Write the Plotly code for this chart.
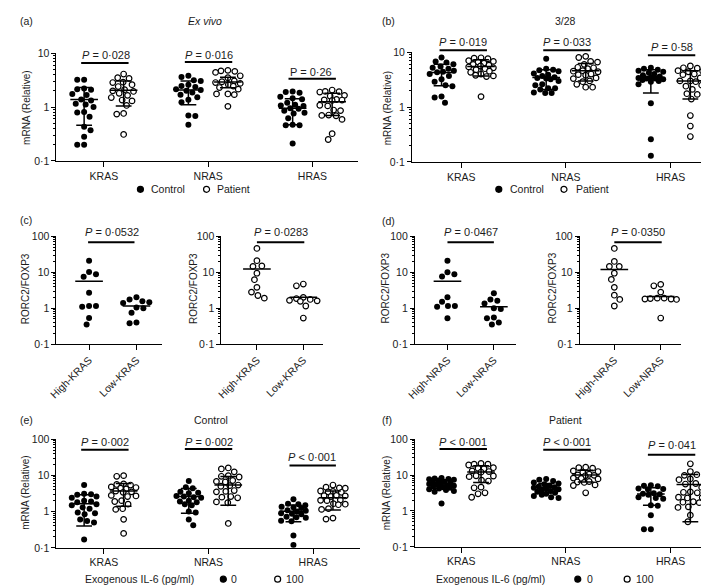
import numpy as np
import plotly.graph_objects as go

W, H = 709, 585
FONT = "Liberation Sans, Arial, sans-serif"
INK = "#1b1b1b"

genes = ["KRAS", "NRAS", "HRAS"]

# (a) Ex vivo - control (filled) vs patient (open)
a_kras_ctrl = [3.2, 3.2, 2.2, 2.15, 2.1, 1.75, 1.67, 1.38, 1.32, 1.15, 1.12, 1.0, 0.81, 0.79, 0.66, 0.43, 0.37, 0.28, 0.2, 0.2]
a_kras_pat = [4.1, 3.5, 3.4, 2.9, 2.85, 2.6, 2.4, 2.1, 2.0, 1.95, 1.8, 1.65, 1.5, 1.35, 1.3, 1.07, 0.76, 0.74, 0.31]
a_nras_ctrl = [3.8, 3.6, 3.15, 3.05, 2.6, 2.45, 2.35, 2.15, 2.07, 2.0, 1.87, 1.7, 1.52, 1.36, 1.23, 0.7, 0.68, 0.47]
a_nras_pat = [4.8, 4.7, 4.6, 4.4, 3.8, 3.5, 3.05, 2.95, 2.85, 2.75, 2.6, 2.45, 2.3, 2.15, 1.75, 1.75, 1.7, 1.03]
a_hras_ctrl = [1.95, 1.9, 1.85, 1.55, 1.45, 1.4, 1.2, 1.1, 1.07, 1.05, 0.95, 0.93, 0.85, 0.78, 0.76, 0.62, 0.47, 0.46, 0.46, 0.21]
a_hras_pat = [2.07, 1.95, 1.93, 1.9, 1.65, 1.6, 1.38, 1.36, 1.35, 1.33, 1.08, 1.05, 0.88, 0.86, 0.71, 0.7, 0.69, 0.59, 0.32, 0.25]
a_mean_ctrl = [1.38, 2.07, 0.95]
a_sd_ctrl = [0.92, 0.97, 0.48]
a_mean_pat = [2.05, 2.93, 1.25]
a_sd_pat = [1.0, 0.65, 0.55]
a_pvals = ["<i>P</i> = 0·028", "<i>P</i> = 0·016", "P = 0·26"]

# (b) 3/28 stimulation
b_kras_ctrl = [8.0, 6.8, 6.5, 6.0, 5.5, 5.2, 5.0, 4.6, 4.4, 4.3, 4.0, 3.7, 3.2, 2.9, 2.5, 2.4, 1.55, 1.5, 1.2]
b_kras_pat = [7.9, 7.8, 7.6, 7.0, 6.8, 6.6, 6.3, 6.0, 5.8, 5.6, 5.4, 5.2, 5.0, 4.8, 4.5, 4.3, 4.0, 3.8, 3.7, 3.6, 1.55]
b_nras_ctrl = [7.6, 5.0, 4.8, 4.7, 4.5, 4.1, 3.9, 3.7, 3.5, 3.4, 3.3, 3.2, 3.0, 2.6, 2.5, 2.2, 2.2, 2.1, 1.85, 1.8, 1.8]
b_nras_pat = [8.4, 8.0, 6.8, 6.6, 6.0, 5.3, 5.2, 5.0, 4.6, 4.5, 4.4, 4.0, 3.9, 3.8, 3.4, 3.3, 3.0, 2.9, 2.6, 2.3, 2.3]
b_hras_ctrl = [5.2, 5.0, 4.8, 4.6, 4.4, 4.2, 4.0, 3.8, 3.6, 3.5, 3.4, 3.3, 3.3, 3.2, 3.1, 3.0, 2.9, 2.6, 1.17, 0.26, 0.13]
b_hras_pat = [5.6, 5.2, 5.1, 4.6, 4.5, 4.4, 4.0, 3.9, 3.4, 3.0, 3.0, 2.9, 2.5, 2.4, 2.1, 1.75, 1.7, 1.4, 0.7, 0.45, 0.29]
b_mean_ctrl = [4.25, 3.45, 3.3]
b_sd_ctrl = [1.8, 1.35, 1.5]
b_mean_pat = [5.5, 4.6, 3.0]
b_sd_pat = [1.8, 1.6, 1.6]
b_pvals = ["<i>P</i> = 0·019", "<i>P</i> = 0·033", "<i>P</i> = 0·58"]

# (c) RORC2/FOXP3 by KRAS level, (d) by NRAS level
c_labels = ["High-KRAS", "Low-KRAS"]
c_high_ctrl = [21, 10.2, 8.8, 7.5, 2.7, 1.15, 1.1, 1.15, 0.53, 0.35]
c_low_ctrl = [2.0, 1.75, 1.55, 1.45, 1.4, 1.05, 1.0, 0.75, 0.4, 0.38]
c_high_pat = [46, 21, 15, 14.5, 9.4, 6.2, 3.8, 2.8, 2.25, 1.9]
c_low_pat = [4.7, 4.2, 2.0, 1.85, 1.75, 1.65, 1.6, 1.55, 1.15, 0.53]
c_means = [[5.6, 1.15], [12.3, 2.0]]
c_pvals = ["<i>P</i> = 0·0532", "<i>P</i> = 0·0283"]

d_labels = ["High-NRAS", "Low-NRAS"]
d_high_ctrl = [21, 10, 8.8, 7.6, 2.0, 1.5, 1.15, 1.1, 1.15, 0.52]
d_low_ctrl = [2.6, 1.75, 1.6, 1.35, 1.0, 0.95, 0.55, 0.52, 0.4, 0.35]
d_high_pat = [46, 20, 14.5, 14.5, 9.4, 6.3, 3.8, 2.3, 1.75, 1.15]
d_low_pat = [4.6, 4.2, 2.8, 1.9, 1.9, 1.85, 1.8, 1.8, 1.75, 0.53]
d_means = [[5.6, 1.1], [12.0, 2.1]]
d_pvals = ["<i>P</i> = 0·0467", "<i>P</i> = 0·0350"]

# (e) Control, (f) Patient: exogenous IL-6 0 (filled) vs 100 pg/ml (open)
e_kras_0 = [5.4, 3.1, 3.0, 2.9, 2.6, 2.4, 2.0, 1.9, 1.8, 1.6, 1.5, 1.3, 1.2, 0.95, 0.9, 0.85, 0.6, 0.55, 0.5, 0.17]
e_kras_100 = [9.8, 9.4, 5.8, 5.6, 5.4, 4.8, 4.6, 4.4, 4.2, 3.7, 3.5, 3.4, 2.8, 2.7, 2.6, 2.0, 1.9, 1.6, 1.2, 1.15, 0.61, 0.25]
e_nras_0 = [7.0, 4.7, 4.4, 3.5, 3.3, 3.2, 2.7, 2.6, 2.5, 2.4, 2.0, 1.9, 1.8, 1.6, 1.5, 1.0, 0.95, 0.6, 0.42]
e_nras_100 = [16, 15, 12.5, 9.8, 9.4, 9.0, 7.2, 6.8, 6.6, 5.4, 5.2, 5.0, 3.8, 3.6, 3.5, 2.6, 2.5, 2.4, 1.85, 1.75, 0.47]
e_hras_0 = [2.2, 1.65, 1.6, 1.5, 1.35, 1.3, 1.25, 1.08, 1.05, 1.0, 0.9, 0.87, 0.84, 0.72, 0.7, 0.68, 0.56, 0.54, 0.22, 0.12]
e_hras_100 = [5.4, 4.7, 4.5, 4.4, 3.7, 3.6, 3.5, 3.4, 2.8, 2.75, 2.7, 2.6, 2.1, 2.05, 2.0, 1.65, 1.6, 1.55, 1.2, 1.15, 0.66, 0.62]
e_mean_0 = [1.65, 2.6, 1.02]
e_sd_0 = [1.25, 1.7, 0.5]
e_mean_100 = [3.7, 5.4, 2.4]
e_sd_100 = [2.3, 3.9, 1.3]
e_pvals = ["<i>P</i> = 0·002", "<i>P</i> = 0·002", "<i>P</i> < 0·001"]

f_kras_0 = [8.2, 8.0, 7.8, 7.6, 7.4, 7.0, 6.5, 6.2, 6.0, 5.8, 5.6, 5.4, 5.2, 5.0, 4.8, 4.6, 4.4, 4.2, 4.0, 3.8, 3.6, 3.4, 1.6]
f_kras_100 = [21, 20, 20, 19, 16, 15.5, 15, 13, 12.5, 12, 9.5, 9.4, 9.0, 7.2, 6.8, 4.6, 4.4, 3.2, 3.0, 2.4]
f_nras_0 = [7.8, 7.4, 6.8, 6.2, 5.8, 5.5, 5.0, 4.8, 4.6, 4.4, 4.2, 4.0, 3.8, 3.6, 3.4, 3.2, 3.0, 2.8, 2.6, 2.4, 2.3]
f_nras_100 = [16.5, 16, 15.5, 13, 12.5, 12, 10.5, 10, 9.8, 9.5, 8.2, 8, 7.8, 6.6, 6.4, 6.2, 5.3, 5.1, 3.2]
f_hras_0 = [5.2, 5.0, 4.9, 4.2, 4.1, 4.0, 3.1, 3.0, 2.9, 2.8, 2.4, 2.3, 2.2, 1.45, 1.4, 0.76, 0.31, 0.31]
f_hras_100 = [20.5, 12.5, 10.2, 9.8, 7.8, 7.4, 5.8, 5.6, 4.5, 3.4, 3.3, 3.2, 2.4, 2.35, 2.3, 1.8, 1.75, 1.7, 1.3, 1.25, 0.76, 0.5]
f_mean_0 = [5.7, 4.5, 2.95]
f_sd_0 = [1.4, 1.3, 1.5]
f_mean_100 = [12.2, 10.0, 5.45]
f_sd_100 = [6.0, 3.6, 4.95]
f_pvals = ["<i>P</i> < 0·001", "<i>P</i> < 0·001", "<i>P</i> = 0·041"]

fig = go.Figure()


def fx(px):
    return px / W


def fy(py):
    return 1 - py / H


def swarm(vals, ppd, gap=7.0, maxw=12.0):
    # beeswarm within a fixed half-width; dots overlap when the column is crowded
    y = np.log10(np.asarray(vals, float)) * ppd
    order = np.argsort(-y)
    xs = np.zeros(len(y))
    done = []
    flip = 1
    n = int(maxw / 0.5)
    for i in order:
        cands = [0.0]
        for k in range(1, n + 1):
            cands += [k * 0.5 * flip, -k * 0.5 * flip]
        best, best_d = 0.0, -1.0
        for c in cands:
            dmin = min([np.hypot(c - xj, y[i] - yj) for xj, yj in done], default=1e9)
            if dmin >= gap:
                best = c
                break
            if dmin > best_d + 0.3:
                best, best_d = c, dmin
        xs[i] = best
        done.append((best, y[i]))
        flip = -flip
    return xs


def add_axes(n, x0, x1, y0, y1, c1, sp, yr, ticktext, angle=0):
    sfx = "" if n == 1 else str(n)
    xr = [1 - (c1 - x0) / sp, 1 + (x1 - c1) / sp]
    fig.update_layout(**{
        "xaxis" + sfx: dict(
            domain=[fx(x0), fx(x1)], range=xr, anchor="y" + sfx,
            tickmode="array", tickvals=list(range(1, len(ticktext) + 1)), ticktext=ticktext,
            tickangle=angle, ticks="outside", ticklen=5, tickwidth=1, tickcolor="black",
            showline=True, linecolor="black", linewidth=1, showgrid=False, zeroline=False,
            tickfont=dict(size=10.5, family=FONT, color=INK), fixedrange=True),
        "yaxis" + sfx: dict(
            domain=[fy(y1), fy(y0)], type="log", range=list(yr), anchor="x" + sfx,
            tick0=0, dtick=1, ticks="outside", ticklen=4, tickwidth=1, tickcolor="black",
            minor=dict(ticks="outside", ticklen=2, tickcolor="black", dtick="D1", showgrid=False),
            showline=True, linecolor="black", linewidth=1, showgrid=False, zeroline=False,
            tickfont=dict(size=10.5, family=FONT, color=INK), fixedrange=True),
    })
    return dict(x="x" + sfx, y="y" + sfx, sp=sp, ppd=(y1 - y0) / (yr[1] - yr[0]))


def add_dots(ax, vals, xc, filled, gap=7.0, maxw=12.0):
    offs = swarm(vals, ax["ppd"], gap, maxw)
    if filled:
        mk = dict(size=6, color="black", line=dict(width=0))
    else:
        mk = dict(size=5.6, color="white", line=dict(width=1.2, color="black"))
    fig.add_trace(go.Scatter(x=xc + offs / ax["sp"], y=vals, mode="markers", marker=mk,
                             xaxis=ax["x"], yaxis=ax["y"], showlegend=False, hoverinfo="skip"))


def add_summary(ax, xc, mean, sd=None, half=14, cap=8):
    h, c = half / ax["sp"], cap / ax["sp"]
    xs = [xc - h, xc + h, None]
    ys = [mean, mean, None]
    if sd is not None:
        xs += [xc, xc, None, xc - c, xc + c, None, xc - c, xc + c]
        ys += [mean - sd, mean + sd, None, mean + sd, mean + sd, None, mean - sd, mean - sd]
    fig.add_trace(go.Scatter(x=xs, y=ys, mode="lines", line=dict(color="black", width=1.5),
                             xaxis=ax["x"], yaxis=ax["y"], showlegend=False, hoverinfo="skip"))


def text(px, py, s, size=11, xanchor="center", angle=0):
    fig.add_annotation(x=fx(px), y=fy(py), xref="paper", yref="paper", text=s, showarrow=False,
                       xanchor=xanchor, yanchor="middle", textangle=angle,
                       font=dict(size=size, family=FONT, color=INK))


def pbar(px0, px1, py):
    fig.add_shape(type="line", xref="paper", yref="paper", x0=fx(px0), x1=fx(px1), y0=fy(py), y1=fy(py),
                  line=dict(color="black", width=2))


def dot(px, py, filled):
    fig.add_shape(type="circle", xref="paper", yref="paper", xsizemode="pixel", ysizemode="pixel",
                  xanchor=fx(px), yanchor=fy(py), x0=-3, x1=3, y0=-3, y1=3,
                  fillcolor="black" if filled else "white", line=dict(color="black", width=1.2))


# ---- gene panels (a), (b), (e), (f)
gene_panels = [
    (1, 40, 345, 40, 150, 88, 105.6, (-1, 1),
     [a_kras_ctrl, a_nras_ctrl, a_hras_ctrl], [a_kras_pat, a_nras_pat, a_hras_pat],
     a_mean_ctrl, a_sd_ctrl, a_mean_pat, a_sd_pat),
    (2, 400, 708, 39, 151, 450, 106, (-1, 1),
     [b_kras_ctrl, b_nras_ctrl, b_hras_ctrl], [b_kras_pat, b_nras_pat, b_hras_pat],
     b_mean_ctrl, b_sd_ctrl, b_mean_pat, b_sd_pat),
    (7, 40, 347, 434, 545, 88, 106, (-1, 2),
     [e_kras_0, e_nras_0, e_hras_0], [e_kras_100, e_nras_100, e_hras_100],
     e_mean_0, e_sd_0, e_mean_100, e_sd_100),
    (8, 403, 708, 434, 544, 450, 106, (-1, 2),
     [f_kras_0, f_nras_0, f_hras_0], [f_kras_100, f_nras_100, f_hras_100],
     f_mean_0, f_sd_0, f_mean_100, f_sd_100),
]
for n, x0, x1, y0, y1, c1, sp, yr, g0, g1, m0, s0, m1, s1 in gene_panels:
    ax = add_axes(n, x0, x1, y0, y1, c1, sp, yr, genes)
    d = 20 / sp
    for i in range(3):
        add_dots(ax, g0[i], i + 1 - d, True, 7.0, 12.5)
        add_dots(ax, g1[i], i + 1 + d, False, 7.0, 12.5)
        add_summary(ax, i + 1 - d, m0[i], s0[i])
        add_summary(ax, i + 1 + d, m1[i], s1[i])

# ---- ratio panels (c), (d)
ratio_panels = [
    (3, 40, 147, 73, 48, c_labels, c_high_ctrl, c_low_ctrl, True, c_means[0]),
    (4, 207, 310, 243, 47, c_labels, c_high_pat, c_low_pat, False, c_means[1]),
    (5, 403, 505, 436, 47, d_labels, d_high_ctrl, d_low_ctrl, True, d_means[0]),
    (6, 570, 673, 605, 47, d_labels, d_high_pat, d_low_pat, False, d_means[1]),
]
for n, x0, x1, c1, sp, labs, hi, lo, filled, means in ratio_panels:
    ax = add_axes(n, x0, x1, 227, 337, c1, sp, (-1, 2), labs, angle=-45)
    add_dots(ax, hi, 1, filled, 7.0, 16)
    add_dots(ax, lo, 2, filled, 7.0, 16)
    add_summary(ax, 1, means[0])
    add_summary(ax, 2, means[1])

# ---- p-value brackets
p_specs = [
    (a_pvals, [(90, 42, 65, 113, 50), (194, 42, 170, 218, 49), (298, 59, 275, 323, 66)]),
    (b_pvals, [(452, 29, 428, 476, 37), (557, 29, 533, 581, 37), (663, 34, 639, 687, 42)]),
    (c_pvals, [(96, 223, 72, 119, 233), (267, 223, 243, 291, 233)]),
    (d_pvals, [(460, 223, 436, 483, 233), (629, 223, 605, 653, 233)]),
    (e_pvals, [(89, 437, 65, 113, 445), (194, 437, 170, 218, 444), (299, 452, 276, 323, 461)]),
    (f_pvals, [(452, 437, 428, 476, 444), (557, 437, 533, 581, 445), (663, 440, 639, 687, 450)]),
]
for labels, spots in p_specs:
    for lab, (tx, ty, bx0, bx1, by) in zip(labels, spots):
        text(tx, ty, lab, 11)
        pbar(bx0, bx1, by)

# ---- panel letters and titles
for lab, px, py in [("(a)", 1, 7), ("(b)", 368, 7), ("(c)", 1, 210), ("(d)", 368, 211),
                    ("(e)", 1, 415), ("(f)", 368, 415)]:
    text(px, py, lab, 10.5, xanchor="left")
text(190, 7, "<i>Ex vivo</i>", 10.5)
text(556, 7, "3/28", 10.5)
text(197, 415, "Control", 10.5)
text(556, 415, "Patient", 10.5)

# ---- y-axis titles
for px, py, s in [(9, 96, "mRNA (Relative)"), (375, 96, "mRNA (Relative)"),
                  (8, 280, "RORC2/FOXP3"), (179, 280, "RORC2/FOXP3"),
                  (373, 280, "RORC2/FOXP3"), (542, 280, "RORC2/FOXP3"),
                  (9, 489, "mRNA (Relative)"), (375, 489, "mRNA (Relative)")]:
    text(px, py, s, 10, angle=-90)

# ---- legends
dot(125, 179, True); text(134, 179, "Control", 10.5, xanchor="left")
dot(192, 179, False); text(201, 179, "Patient", 10.5, xanchor="left")
dot(488, 179, True); text(497, 179, "Control", 10.5, xanchor="left")
dot(554, 179, False); text(564, 179, "Patient", 10.5, xanchor="left")

text(67, 577, "Exogenous IL-6 (pg/ml)", 10.5, xanchor="left")
dot(209, 577, True); text(215, 577, "0", 10.5, xanchor="left")
dot(264, 577, False); text(270, 577, "100", 10.5, xanchor="left")
text(422, 577, "Exogenous IL-6 (pg/ml)", 10.5, xanchor="left")
dot(568, 577, True); text(575, 577, "0", 10.5, xanchor="left")
dot(618, 577, False); text(625, 577, "100", 10.5, xanchor="left")

fig.update_layout(
    width=W, height=H, autosize=False,
    margin=dict(l=0, r=0, t=0, b=0),
    paper_bgcolor="white", plot_bgcolor="white",
    separators="·,",
    font=dict(family=FONT, size=10.5, color=INK),
    showlegend=False,
)

fig.write_html("out.html")
